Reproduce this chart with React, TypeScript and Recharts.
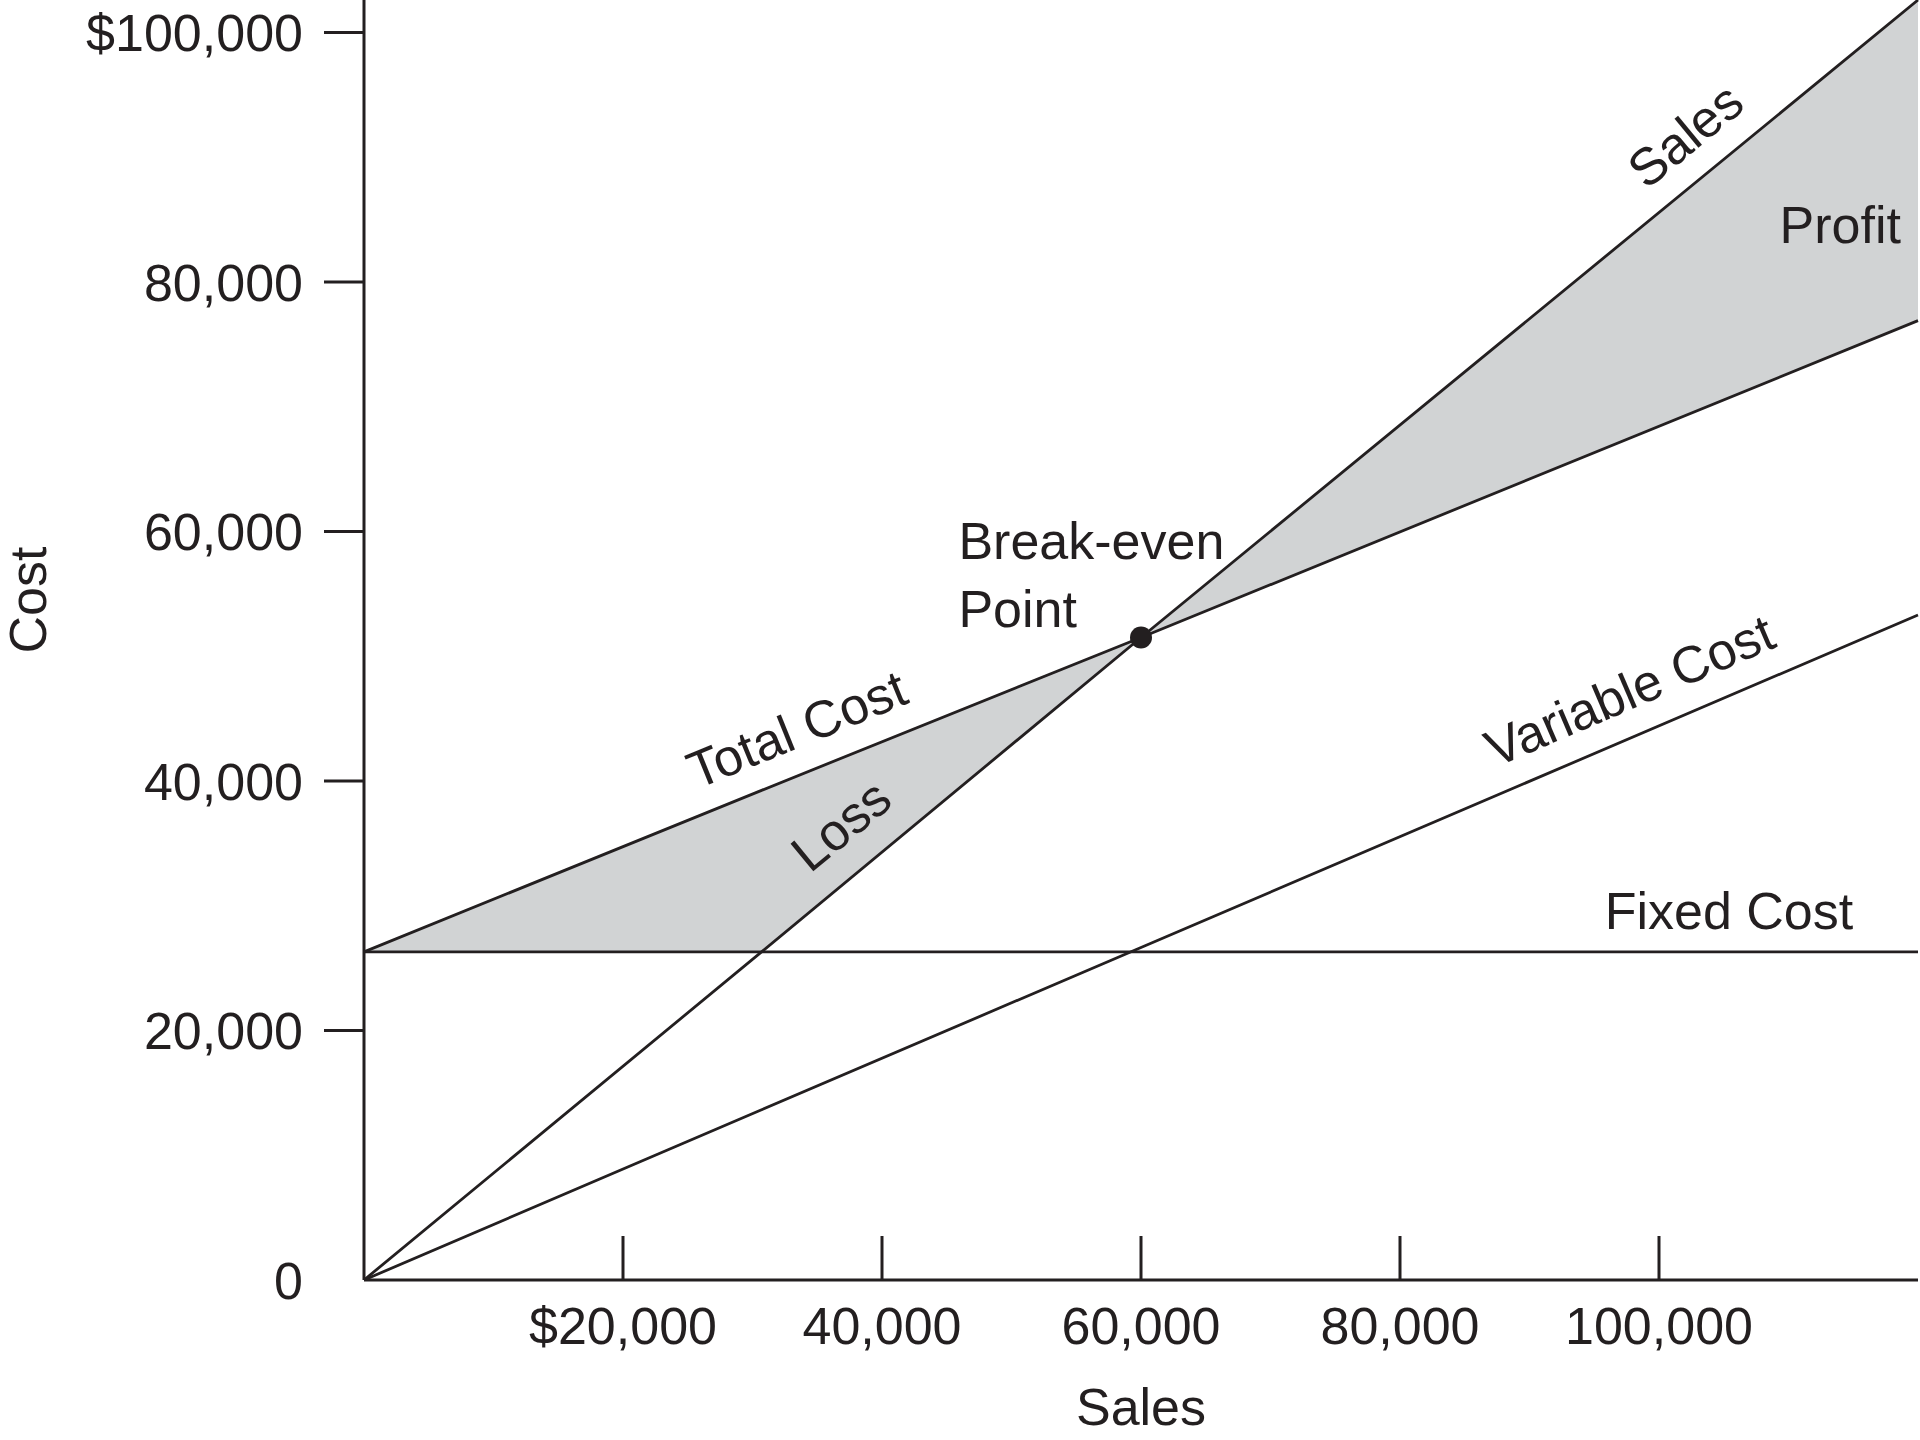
import {
  ComposedChart,
  Area,
  Line,
  XAxis,
  YAxis,
  ReferenceDot,
} from "recharts";

// sales volume at the points where the lines are sampled
const salesPoints = [0, 30700, 60000, 120000];
// revenue line
const salesLine = [0, 26300, 51500, 102600];
const fixedCost = [26300, 26300, 26300, 26300];
const variableCost = [0, 13650, 26650, 53300];
const totalCost = [26300, 39250, 51500, 76900];
// shaded band between revenue and total cost (loss below, profit above)
const bandLow = [26300, 26300, 51500, 76900];
const bandHigh = [26300, 39250, 51500, 102600];

const xTicks = [20000, 40000, 60000, 80000, 100000];
const yTicks = [0, 20000, 40000, 60000, 80000, 100000];

const breakEven = { x: 60000, y: 51500 };

const data = salesPoints.map((x, i) => ({
  x,
  sales: salesLine[i],
  fixed: fixedCost[i],
  variable: variableCost[i],
  total: totalCost[i],
  band: [bandLow[i], bandHigh[i]],
}));

const INK = "#231f20";
const FONT = '"Liberation Sans", Arial, Helvetica, sans-serif';
const FS = 52;

const money = (v: number, first: number) =>
  v === first ? `$${v.toLocaleString("en-US")}` : v.toLocaleString("en-US");

const XTick = (p: any) => {
  const { x, y, payload } = p;
  return (
    <g>
      <line x1={x} y1={y - 44} x2={x} y2={y} stroke={INK} strokeWidth={3} />
      <text x={x} y={y + 64} textAnchor="middle" fontSize={FS} fontFamily={FONT} fill={INK}>
        {money(payload.value, 20000)}
      </text>
    </g>
  );
};

const YTick = (p: any) => {
  const { x, y, payload } = p;
  return (
    <g>
      {payload.value !== 0 && (
        <line x1={x - 40} y1={y} x2={x} y2={y} stroke={INK} strokeWidth={3} />
      )}
      <text x={x - 61} y={y} dy="0.36em" textAnchor="end" fontSize={FS} fontFamily={FONT} fill={INK}>
        {money(payload.value, 100000)}
      </text>
    </g>
  );
};

// text placed at a data coordinate, optionally rotated around its anchor
const tag = (text: string, angle = 0, anchor: "middle" | "start" = "middle") => ({
  content: (p: any) => {
    const vb = p.viewBox || {};
    const cx = vb.x + (vb.width || 0) / 2;
    const cy = vb.y + (vb.height || 0) / 2;
    return (
      <text
        x={cx}
        y={cy}
        dy="0.36em"
        textAnchor={anchor}
        transform={angle ? `rotate(${angle} ${cx} ${cy})` : undefined}
        fontSize={FS}
        fontFamily={FONT}
        fill={INK}
      >
        {text}
      </text>
    );
  },
});

const labels = [
  { x: 102000, y: 91800, text: "Sales", angle: -39.5 },
  { x: 114000, y: 84600, text: "Profit", angle: 0 },
  { x: 33400, y: 44200, text: "Total Cost", angle: -22.1 },
  { x: 36800, y: 36500, text: "Loss", angle: -39.5 },
  { x: 97700, y: 47300, text: "Variable Cost", angle: -23.2 },
  { x: 105400, y: 29650, text: "Fixed Cost", angle: 0 },
];

export default function App() {
  return (
    <div style={{ position: "absolute", left: 0, top: 0, background: "#fff" }}>
      <ComposedChart
        width={1920}
        height={1440}
        data={data}
        margin={{ top: 0, right: 2, bottom: 0, left: 0 }}
      >
        <XAxis
          dataKey="x"
          type="number"
          domain={[0, 120000]}
          ticks={xTicks}
          height={160}
          tickSize={0}
          tickMargin={0}
          tickLine={false}
          tick={<XTick />}
          axisLine={{ stroke: INK, strokeWidth: 3 }}
          label={{
            content: (p: any) => {
              const vb = p.viewBox;
              return (
                <text x={vb.x + vb.width / 2} y={vb.y + 126} dy="0.36em" textAnchor="middle"
                  fontSize={FS} fontFamily={FONT} fill={INK}>
                  Sales
                </text>
              );
            },
          }}
        />
        <YAxis
          type="number"
          domain={[0, 102600]}
          allowDataOverflow
          ticks={yTicks}
          width={364}
          tickSize={0}
          tickMargin={0}
          tickLine={false}
          tick={<YTick />}
          axisLine={{ stroke: INK, strokeWidth: 3 }}
          label={{
            content: (p: any) => {
              const vb = p.viewBox;
              const cx = vb.x + 27;
              const cy = 600;
              return (
                <text x={cx} y={cy} dy="0.36em" textAnchor="middle" transform={`rotate(-90 ${cx} ${cy})`}
                  fontSize={FS} fontFamily={FONT} fill={INK}>
                  Cost
                </text>
              );
            },
          }}
        />

        <Area
          type="linear"
          dataKey="band"
          stroke="none"
          fill="#d1d3d4"
          fillOpacity={1}
          isAnimationActive={false}
        />

        <Line type="linear" dataKey="fixed" stroke={INK} strokeWidth={2.8} dot={false} isAnimationActive={false} />
        <Line type="linear" dataKey="variable" stroke={INK} strokeWidth={2.8} dot={false} isAnimationActive={false} />
        <Line type="linear" dataKey="total" stroke={INK} strokeWidth={2.8} dot={false} isAnimationActive={false} />
        <Line type="linear" dataKey="sales" stroke={INK} strokeWidth={2.8} dot={false} isAnimationActive={false} />

        <ReferenceDot x={breakEven.x} y={breakEven.y} r={11} fill={INK} stroke="none" />

        {labels.map((l) => (
          <ReferenceDot
            key={l.text}
            x={l.x}
            y={l.y}
            r={0}
            fill="none"
            stroke="none"
            ifOverflow="visible"
            label={tag(l.text, l.angle)}
          />
        ))}
        <ReferenceDot x={45900} y={59300} r={0} fill="none" stroke="none" ifOverflow="visible"
          label={tag("Break-even", 0, "start")} />
        <ReferenceDot x={45900} y={53850} r={0} fill="none" stroke="none" ifOverflow="visible"
          label={tag("Point", 0, "start")} />
      </ComposedChart>
    </div>
  );
}
